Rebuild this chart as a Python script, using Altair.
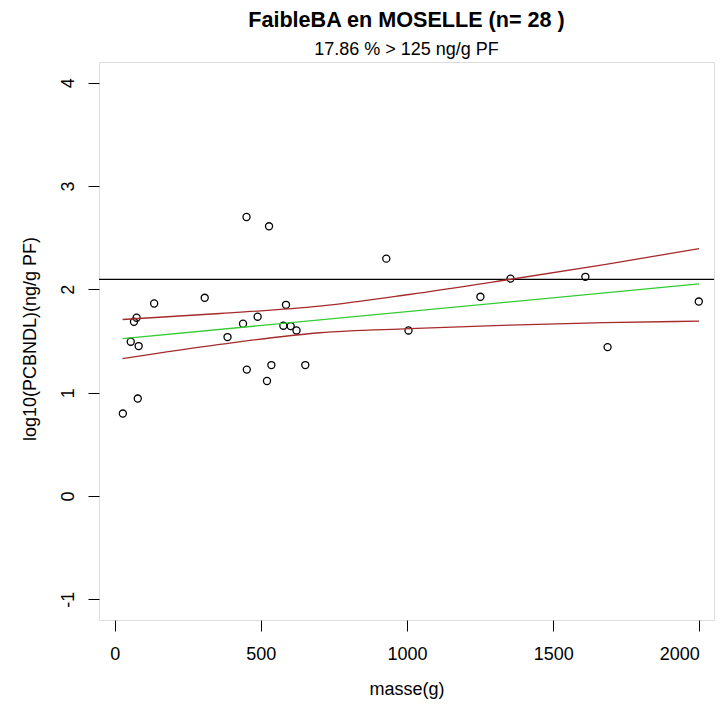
import altair as alt
import pandas as pd

# Scatter points: masse (g) and log10(PCBNDL) (ng/g PF)
masse = [451, 528, 308, 135, 586, 75, 66, 489, 439, 577, 602, 622, 386, 55,
         82, 452, 536, 521, 652, 79, 28, 929, 1354, 1251, 1005, 1610, 1998, 1686]
logpcb = [2.70, 2.61, 1.918, 1.863, 1.850, 1.725, 1.686, 1.735, 1.667, 1.648,
          1.644, 1.602, 1.538, 1.493, 1.451, 1.223, 1.267, 1.113, 1.267, 0.943,
          0.798, 2.297, 2.104, 1.928, 1.602, 2.121, 1.882, 1.441]

# Regression line (green) and confidence band (red)
fit_x = [27, 1999]
fit_y = [1.522, 2.053]
band_x = [27, 360, 701, 1008, 1350, 1675, 1999]
band_upper = [1.708, 1.766, 1.837, 1.950, 2.095, 2.239, 2.394]
band_lower = [1.329, 1.467, 1.580, 1.619, 1.654, 1.677, 1.692]

threshold_log = [2.097]  # log10(125)

x_ticks = [0, 500, 1000, 1500, 2000]
y_ticks = [-1, 0, 1, 2, 3, 4]

pts = pd.DataFrame({"masse": masse, "logpcb": logpcb})
fit = pd.DataFrame({"masse": fit_x, "logpcb": fit_y})
up = pd.DataFrame({"masse": band_x, "logpcb": band_upper})
lo = pd.DataFrame({"masse": band_x, "logpcb": band_lower})
thr = pd.DataFrame({"y": threshold_log})

FONT = "Liberation Sans"

xs = alt.Scale(domain=[-53.6, 2050], nice=False, zero=False)
ys = alt.Scale(domain=[-1.2, 4.2], nice=False, zero=False)

xax = alt.Axis(values=x_ticks, format="d", grid=False, domain=False,
               tickSize=11, tickColor="black", tickWidth=1,
               labelFontSize=18, labelColor="black", labelFont=FONT,
               labelBaseline="alphabetic", labelPadding=28, labelFlush=15,
               labelOverlap=False,
               title="masse(g)", titleFontSize=18, titleFont=FONT,
               titleFontWeight="normal", titleColor="black",
               titleBaseline="alphabetic", titleY=74)
yax = alt.Axis(values=y_ticks, labelExpr="'' + datum.value", grid=False, domain=False,
               tickSize=11, tickColor="black", tickWidth=1,
               labelFontSize=18, labelColor="black", labelFont=FONT,
               labelAngle=270, labelAlign="center", labelBaseline="alphabetic",
               labelPadding=15, labelFlush=False, labelOverlap=False,
               title="log10(PCBNDL)(ng/g PF)", titleFontSize=18, titleFont=FONT,
               titleFontWeight="normal", titleColor="black",
               titleAngle=270, titleAlign="center", titleBaseline="alphabetic",
               titleX=-64, titleY=276.5)

points = alt.Chart(pts).mark_point(shape="circle", filled=False, color="black",
                                   size=50, strokeWidth=1.3, opacity=1).encode(
    x=alt.X("masse:Q", scale=xs, axis=xax),
    y=alt.Y("logpcb:Q", scale=ys, axis=yax),
)

hline = alt.Chart(thr).mark_rule(color="black", strokeWidth=1.3).encode(
    y=alt.Y("y:Q", scale=ys)
)

green = alt.Chart(fit).mark_line(color="#33cc33", strokeWidth=1.3).encode(
    x=alt.X("masse:Q", scale=xs), y=alt.Y("logpcb:Q", scale=ys)
)
red_up = alt.Chart(up).mark_line(color="#a52a2a", strokeWidth=1.3,
                                 interpolate="monotone").encode(
    x=alt.X("masse:Q", scale=xs), y=alt.Y("logpcb:Q", scale=ys)
)
red_lo = alt.Chart(lo).mark_line(color="#a52a2a", strokeWidth=1.3,
                                 interpolate="monotone").encode(
    x=alt.X("masse:Q", scale=xs), y=alt.Y("logpcb:Q", scale=ys)
)

chart = alt.layer(points, hline, green, red_up, red_lo).properties(
    width=615, height=558,
    title=alt.TitleParams(
        text="FaibleBA en MOSELLE (n= 28 )",
        subtitle="17.86 % > 125 ng/g PF",
        font=FONT, fontSize=21.6, fontWeight="bold", color="black",
        subtitleFont=FONT, subtitleFontSize=18, subtitleColor="black",
        subtitlePadding=9, anchor="middle", frame="group", offset=3,
    ),
    autosize=alt.AutoSizeParams(type="none"),
    padding={"left": 91, "top": 54, "right": 1, "bottom": 79},
).configure_view(stroke="black", strokeWidth=1.2).configure(background="white")

chart.save("out.html", embed_options={"renderer": "svg", "actions": False})
